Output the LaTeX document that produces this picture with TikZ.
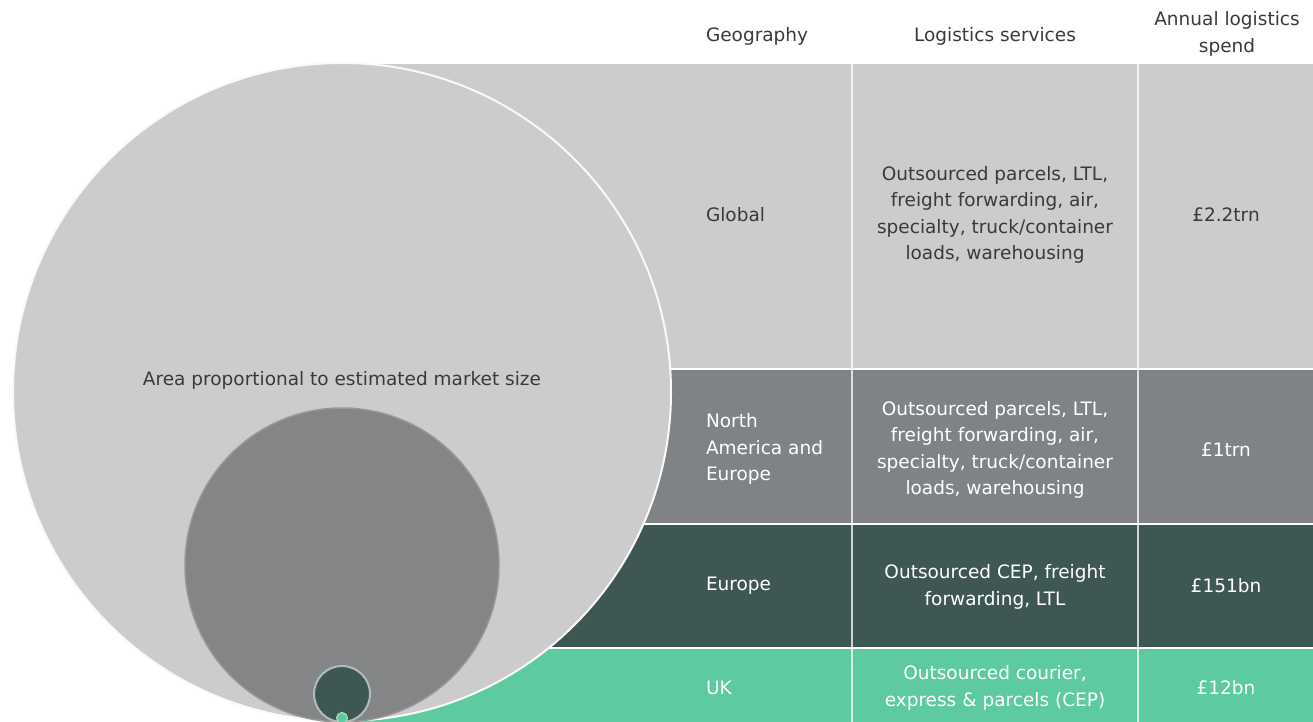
\documentclass[tikz,border=0pt]{standalone}
\usepackage{fontspec}
\setmainfont{DejaVu Sans}
\definecolor{lgray}{HTML}{CCCCCC}
\definecolor{mgray}{HTML}{808385}
\definecolor{cgray}{HTML}{838586}
\definecolor{dteal}{HTML}{3F5753}
\definecolor{mint}{HTML}{5DCAA0}
\definecolor{txt}{HTML}{3A3A3A}
\begin{document}
\begin{tikzpicture}[x=1pt,y=-1pt,
  every node/.style={inner sep=0pt,outer sep=0pt},
  lbl/.style={font=\fontsize{18.5}{26.5}\selectfont},
  dark/.style={lbl,text=txt},
  light/.style={lbl,text=white},
  geo/.style={anchor=west,align=left},
  svc/.style={align=center},
  sepline/.style={draw=white,line width=2.5pt},
  vline/.style={draw=white,opacity=0.75,line width=2pt},
  band/.style={draw=none,rectangle,anchor=north west}
]
\useasboundingbox (0,0) rectangle (1313,722);
% bands
\fill[lgray] (342,64) rectangle (1313,369);
\fill[mgray] (342,369) rectangle (1313,524);
\fill[dteal] (342,524) rectangle (1313,648);
\fill[mint]  (342,648) rectangle (1313,722);
% separators
\coordinate (s1l) at (342,369); \coordinate (s1r) at (1313,369);
\coordinate (s2l) at (342,524); \coordinate (s2r) at (1313,524);
\coordinate (s3l) at (342,648); \coordinate (s3r) at (1313,648);
\coordinate (v1t) at (852,64); \coordinate (v1b) at (852,722);
\coordinate (v2t) at (1138,64); \coordinate (v2b) at (1138,722);
\draw[sepline] (s1l) -- (s1r);
\draw[sepline] (s2l) -- (s2r);
\draw[sepline] (s3l) -- (s3r);
\draw[vline] (v1t) -- (v1b);
\draw[vline] (v2t) -- (v2b);
% circles
\node[circle,minimum size=658pt,fill=lgray,draw=white!88!lgray,line width=2pt] (big) at (342,392) {};
\node[circle,minimum size=314pt,fill=cgray,draw=white!15!cgray,line width=1.5pt] (med) at (342,565) {};
\node[circle,minimum size=56pt,fill=dteal,draw=white!60!dteal,line width=2pt] (small) at (342,694) {};
\node[circle,minimum size=11pt,fill=mint,draw=white!50!mint,line width=1pt] (tiny) at (342,718) {};
\node[dark] (area) at (342,380) {Area proportional to estimated market size};
% header
\node[dark,anchor=west] (h1) at (706,36) {Geography};
\node[dark] (h2) at (995,36) {Logistics services};
\node[dark,svc] (h3) at (1227,34) {Annual logistics\\spend};
% Global row
\node[dark,geo] (g1) at (706,215) {Global};
\node[dark,svc] (g2) at (995,215) {Outsourced parcels, LTL,\\freight forwarding, air,\\specialty, truck/container\\loads, warehousing};
\node[dark] (g3) at (1226,215) {£2.2trn};
% North America and Europe row
\node[light,geo] (n1) at (706,449) {North\\America and\\Europe};
\node[light,svc] (n2) at (995,450) {Outsourced parcels, LTL,\\freight forwarding, air,\\specialty, truck/container\\loads, warehousing};
\node[light] (n3) at (1226,450) {£1trn};
% Europe row
\node[light,geo] (e1) at (706,586) {Europe};
\node[light,svc] (e2) at (995,587) {Outsourced CEP, freight\\forwarding, LTL};
\node[light] (e3) at (1226,586) {£151bn};
% UK row
\node[light,geo] (u1) at (706,688) {UK};
\node[light,svc] (u2) at (995,688) {Outsourced courier,\\express \& parcels (CEP)};
\node[light] (u3) at (1226,688) {£12bn};
\end{tikzpicture}
\end{document}
